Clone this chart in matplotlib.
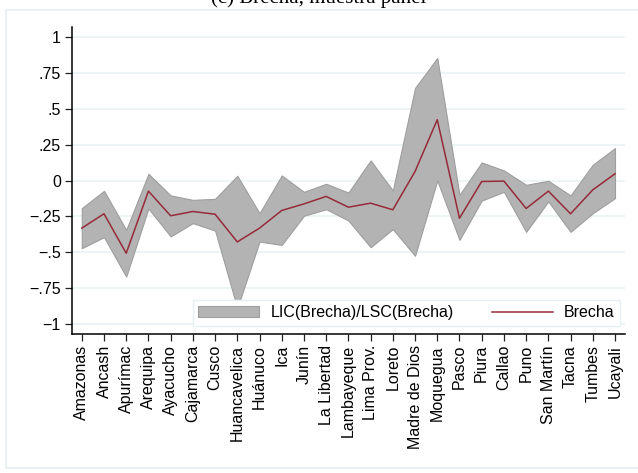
import numpy as np
import matplotlib.pyplot as plt
from matplotlib.patches import Rectangle

plt.rcParams['font.family'] = ['Liberation Sans', 'DejaVu Sans']

regiones = ["Amazonas", "Ancash", "Apurímac", "Arequipa", "Ayacucho", "Cajamarca",
            "Cusco", "Huancavelica", "Huánuco", "Ica", "Junín", "La Libertad",
            "Lambayeque", "Lima Prov.", "Loreto", "Madre de Dios", "Moquegua",
            "Pasco", "Piura", "Callao", "Puno", "San Martín", "Tacna", "Tumbes",
            "Ucayali"]
brecha = [-0.332, -0.232, -0.507, -0.074, -0.246, -0.216, -0.235, -0.428, -0.332,
          -0.209, -0.163, -0.111, -0.186, -0.158, -0.204, 0.063, 0.424, -0.263,
          -0.007, -0.004, -0.195, -0.074, -0.232, -0.065, 0.047]
lic = [-0.472, -0.395, -0.670, -0.195, -0.390, -0.297, -0.349, -0.890, -0.426,
       -0.449, -0.246, -0.200, -0.279, -0.465, -0.339, -0.525, 0.000, -0.414,
       -0.140, -0.079, -0.358, -0.146, -0.358, -0.228, -0.123]
lsc = [-0.193, -0.072, -0.344, 0.047, -0.104, -0.135, -0.128, 0.033, -0.228,
       0.035, -0.079, -0.023, -0.084, 0.140, -0.070, 0.645, 0.854, -0.100,
       0.126, 0.070, -0.030, -0.002, -0.104, 0.110, 0.226]
yticks = [-1, -0.75, -0.5, -0.25, 0, 0.25, 0.5, 0.75, 1]
ylabels = ["\u22121", "\u2212.75", "\u2212.5", "\u2212.25", "0", ".25", ".5", ".75", "1"]

fig = plt.figure(figsize=(6.38, 4.73), dpi=100)
fig.patches.append(Rectangle((6 / 638, 1 - 468 / 473), 1.0, (468 - 10) / 473,
                             transform=fig.transFigure, fill=False,
                             edgecolor='#e6eff1', linewidth=1.2))
# title sits mostly above the top edge, as in the original export
fig.text(0.5, 1 - 3 / 473, "(c) Brecha, muestra panel", ha='center', va='baseline',
         fontsize=15, family='Liberation Serif')

ax = fig.add_axes([72 / 638, 1 - 334 / 473, (625 - 72) / 638, (334 - 27) / 473])
x = np.arange(len(regiones))

for t in yticks:
    ax.axhline(t, color='#eaf2f4', linewidth=1.2, zorder=0)

ax.fill_between(x, lic, lsc, facecolor='#b3b3b3', edgecolor='#9e9e9e',
                linewidth=0.8, label='LIC(Brecha)/LSC(Brecha)', zorder=2)
ax.plot(x, brecha, color='#962b3a', linewidth=1.1, label='Brecha', zorder=3)

ax.set_xlim(-0.44, 24.45)
ax.set_ylim(-1.07, 1.07)
ax.set_yticks(yticks)
ax.set_yticklabels(ylabels)
ax.set_xticks(x)
ax.set_xticklabels(regiones, rotation=90)
ax.tick_params(axis='both', labelsize=11.5, length=5, width=0.9, pad=3, color='#222222')

for s in ['top', 'right']:
    ax.spines[s].set_visible(False)
for s in ['left', 'bottom']:
    ax.spines[s].set_linewidth(1.1)

leg = ax.legend(loc='lower right', ncol=2, fontsize=11.5, frameon=True,
                fancybox=False, edgecolor='#e6eff1', framealpha=1,
                bbox_to_anchor=(620 / 638, 1 - 326 / 473),
                bbox_transform=fig.transFigure, borderaxespad=0,
                handlelength=3.8, columnspacing=2.4, handletextpad=0.7,
                borderpad=0.35)
leg.get_frame().set_linewidth(1.0)

fig.savefig("out.png", dpi=100)
